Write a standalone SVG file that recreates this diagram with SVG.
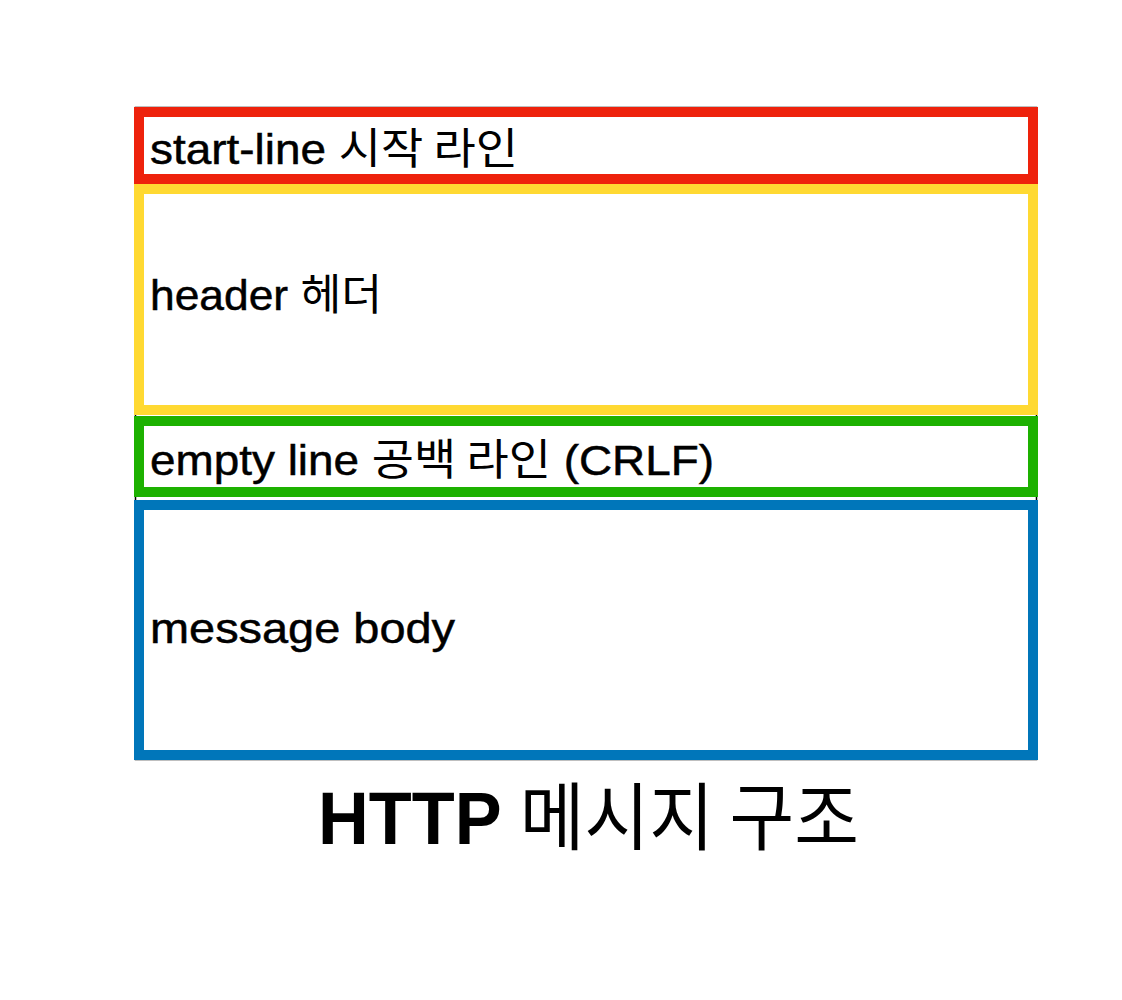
<svg xmlns="http://www.w3.org/2000/svg" width="1122" height="1000" viewBox="0 0 1122 1000">
<style>
.box{fill:none;stroke-width:10}
.lbl{font-family:"Liberation Sans","Noto Sans CJK KR",sans-serif;font-size:43px;fill:#000}
.lat{stroke:#000;stroke-width:0.5}
.ko{font-family:"Noto Sans CJK KR",sans-serif;font-weight:normal;stroke:none}
.title{font-family:"Liberation Sans","Noto Sans CJK KR",sans-serif;font-size:74px;font-weight:bold;fill:#000}
</style>
<rect width="1122" height="1000" fill="#fff"/>
<g id="frame"><rect x="135.5" y="107.5" width="901" height="652" fill="none" stroke="#000" stroke-width="1.5"/></g>
<g id="start-line">
<rect class="box" x="139" y="112" width="894" height="67" stroke="#EE220C"/>
<text class="lbl" x="150" y="164" textLength="368" lengthAdjust="spacingAndGlyphs"><tspan class="lat">start-line </tspan><tspan class="ko">시작 라인</tspan></text>
</g>
<g id="header">
<rect class="box" x="139" y="189" width="894" height="221" stroke="#FFD932"/>
<text class="lbl" x="150" y="310" textLength="232" lengthAdjust="spacingAndGlyphs"><tspan class="lat">header </tspan><tspan class="ko">헤더</tspan></text>
</g>
<g id="empty-line">
<rect class="box" x="139" y="421" width="894" height="71" stroke="#1DB100"/>
<text class="lbl" x="150" y="475" textLength="564" lengthAdjust="spacingAndGlyphs"><tspan class="lat">empty line </tspan><tspan class="ko">공백 라인</tspan><tspan class="lat"> (CRLF)</tspan></text>
</g>
<g id="message-body">
<rect class="box" x="139" y="505" width="894" height="250" stroke="#0076BA"/>
<text class="lbl" x="150" y="643" textLength="305" lengthAdjust="spacingAndGlyphs"><tspan class="lat">message body</tspan></text>
</g>
<g id="connectors"></g>
<g id="caption">
<text class="title" x="318" y="844" textLength="541" lengthAdjust="spacingAndGlyphs">HTTP <tspan class="ko">메시지 구조</tspan></text>
</g>
</svg>
